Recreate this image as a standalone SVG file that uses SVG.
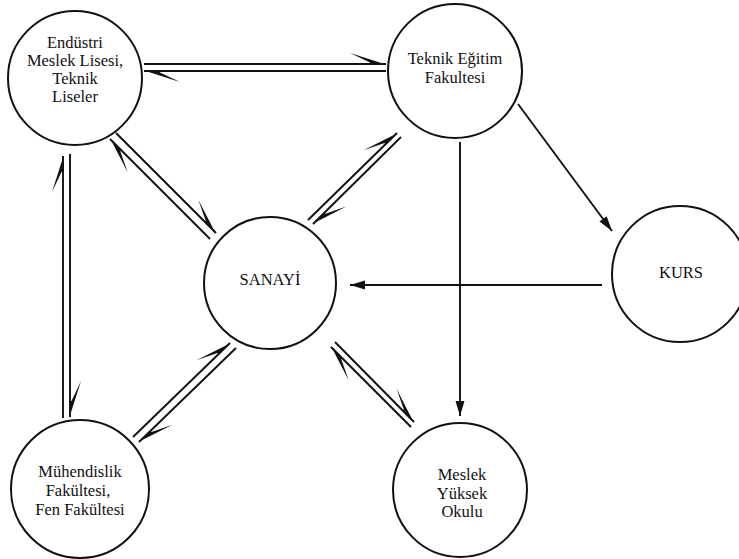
<svg xmlns="http://www.w3.org/2000/svg" width="739" height="559" viewBox="0 0 739 559">
<defs>
<style>
.node circle{fill:#fff;stroke:#111;stroke-width:2}
.node text{font-size:16.5px;fill:#111;text-anchor:middle}
.c line{stroke:#111;stroke-width:1.9;fill:none}
.h{marker-end:url(#harp)}
.a{marker-end:url(#arr)}
</style>
<marker id="harp" markerUnits="userSpaceOnUse" orient="auto" refX="0" refY="0" markerWidth="1" markerHeight="1" overflow="visible">
<path d="M0,0.5 L-36,-11 L-16,-1.5 L-16,0.5 Z" fill="#111"/>
</marker>
<marker id="arr" markerUnits="userSpaceOnUse" orient="auto" refX="0" refY="0" markerWidth="1" markerHeight="1" overflow="visible">
<path d="M0,0 L-15,-4.5 L-15,4.5 Z" fill="#111"/>
</marker>
</defs>
<rect width="739" height="559" fill="#fff"/>
<g class="c" id="connectors">
<line class="h" x1="144" y1="64" x2="386" y2="64"/>
<line class="h" x1="386" y1="71" x2="144" y2="71"/>
<line class="h" x1="63" y1="418" x2="63" y2="156"/>
<line class="h" x1="70" y1="154" x2="70" y2="417"/>
<line class="h" x1="116" y1="133" x2="216" y2="233"/>
<line class="h" x1="210" y1="239" x2="110" y2="139"/>
<line class="h" x1="308" y1="220" x2="397" y2="133"/>
<line class="h" x1="401" y1="137" x2="313" y2="224"/>
<line class="h" x1="133" y1="437" x2="230" y2="343"/>
<line class="h" x1="236" y1="348" x2="139" y2="442"/>
<line class="h" x1="335" y1="342" x2="414" y2="422"/>
<line class="h" x1="411" y1="427" x2="331" y2="347"/>
<line class="a" x1="518" y1="104" x2="612" y2="231"/>
<line class="a" x1="602" y1="285" x2="350" y2="285"/>
<line class="a" x1="460" y1="142" x2="460" y2="416"/>
</g>
<g class="node" id="endustri" font-family="'Liberation Serif', 'Times New Roman', 'DejaVu Serif', serif">
<circle cx="75" cy="78" r="67"/>
<text x="75" y="48">Endüstri</text>
<text x="75" y="66">Meslek Lisesi,</text>
<text x="75" y="84">Teknik</text>
<text x="75" y="102">Liseler</text>
</g>
<g class="node" id="teknik-egitim" font-family="'Liberation Serif', 'Times New Roman', 'DejaVu Serif', serif">
<circle cx="455" cy="71" r="67"/>
<text x="455" y="64">Teknik Eğitim</text>
<text x="455" y="83">Fakultesi</text>
</g>
<g class="node" id="sanayi" font-family="'Liberation Serif', 'Times New Roman', 'DejaVu Serif', serif">
<circle cx="270" cy="283" r="66"/>
<text x="270" y="285">SANAYİ</text>
</g>
<g class="node" id="kurs" font-family="'Liberation Serif', 'Times New Roman', 'DejaVu Serif', serif">
<circle cx="680" cy="274" r="68"/>
<text x="681" y="278">KURS</text>
</g>
<g class="node" id="muhendislik" font-family="'Liberation Serif', 'Times New Roman', 'DejaVu Serif', serif">
<circle cx="80" cy="489" r="69"/>
<text x="80" y="477">Mühendislik</text>
<text x="78" y="496">Fakültesi,</text>
<text x="80" y="515">Fen Fakültesi</text>
</g>
<g class="node" id="meslek-yuksek" font-family="'Liberation Serif', 'Times New Roman', 'DejaVu Serif', serif">
<circle cx="460" cy="490" r="67"/>
<text x="462" y="480">Meslek</text>
<text x="462" y="499">Yüksek</text>
<text x="462" y="517">Okulu</text>
</g>
</svg>
